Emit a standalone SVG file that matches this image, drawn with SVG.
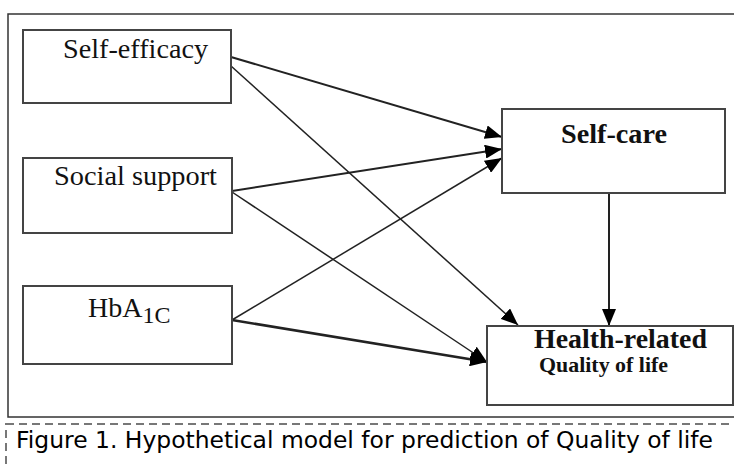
<svg xmlns="http://www.w3.org/2000/svg" width="734" height="468" viewBox="0 0 734 468">
<style>
.box{fill:#fff;stroke:#444;stroke-width:2}
.t{font-family:"Liberation Serif","Times New Roman",serif;fill:#111}
.b{font-weight:bold}
.c{stroke:#222;fill:none}
.cap{font-family:"DejaVu Sans","Liberation Sans",sans-serif;font-size:23px;fill:#000}
</style>
<defs>
<marker id="ah" markerUnits="userSpaceOnUse" markerWidth="18" markerHeight="14" refX="17" refY="7" orient="auto">
<path d="M0,0 L17,7 L0,14 Z" fill="#000"/>
</marker>
</defs>
<rect x="0" y="0" width="734" height="468" fill="#fff"/>
<rect x="8" y="14" width="730" height="403" fill="none" stroke="#333" stroke-width="1.5"/>
<rect x="6" y="424" width="740" height="60" fill="none" stroke="#777" stroke-width="2" stroke-dasharray="8,5"/>
<g id="connectors">
<line class="c" x1="231" y1="57" x2="502" y2="137" stroke-width="2" marker-end="url(#ah)"/>
<line class="c" x1="231" y1="66" x2="518" y2="325" stroke-width="1.5" marker-end="url(#ah)"/>
<line class="c" x1="232" y1="191" x2="502" y2="149" stroke-width="2" marker-end="url(#ah)"/>
<line class="c" x1="232" y1="192" x2="487" y2="362" stroke-width="1.5" marker-end="url(#ah)"/>
<line class="c" x1="232" y1="320" x2="502" y2="158" stroke-width="1.5" marker-end="url(#ah)"/>
<line class="c" x1="232" y1="320" x2="487" y2="362" stroke-width="2.5" marker-end="url(#ah)"/>
<line class="c" x1="609" y1="193" x2="609" y2="326" stroke-width="2" marker-end="url(#ah)"/>
</g>
<g id="self-efficacy">
<rect class="box" x="23" y="30" width="208" height="73"/>
<text class="t" x="63" y="58" font-size="28" textLength="145" lengthAdjust="spacingAndGlyphs">Self-efficacy</text>
</g>
<g id="social-support">
<rect class="box" x="23" y="158" width="209" height="75"/>
<text class="t" x="54" y="185" font-size="28" textLength="163" lengthAdjust="spacingAndGlyphs">Social support</text>
</g>
<g id="hba1c">
<rect class="box" x="23" y="286" width="209" height="78"/>
<text class="t" x="88" y="317" font-size="28">HbA<tspan font-size="24" dy="6">1C</tspan></text>
</g>
<g id="self-care">
<rect class="box" x="502" y="109" width="223" height="84"/>
<text class="t b" x="561" y="143" font-size="28" textLength="106" lengthAdjust="spacingAndGlyphs">Self-care</text>
</g>
<g id="health-related-qol">
<rect class="box" x="487" y="326" width="246" height="79"/>
<text class="t b" x="534" y="348" font-size="28" textLength="173" lengthAdjust="spacingAndGlyphs">Health-related</text>
<text class="t b" x="539" y="372" font-size="22" textLength="129" lengthAdjust="spacingAndGlyphs">Quality of life</text>
</g>
<text class="cap" x="16" y="448" textLength="697" lengthAdjust="spacingAndGlyphs">Figure 1. Hypothetical model for prediction of Quality of life</text>
</svg>
